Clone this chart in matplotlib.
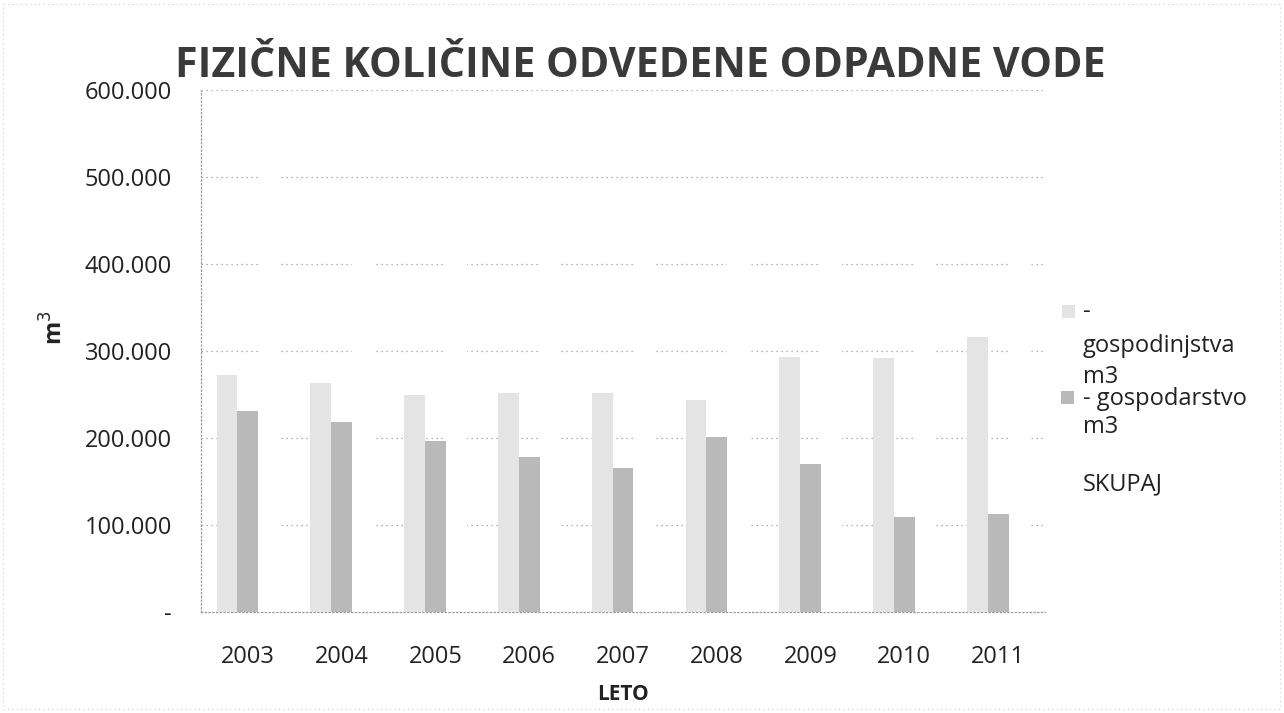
import matplotlib
matplotlib.use("Agg")
import matplotlib.pyplot as plt
from matplotlib.patches import Rectangle
import numpy as np

years = ["2003", "2004", "2005", "2006", "2007", "2008", "2009", "2010", "2011"]
gospodinjstva = [272000, 263000, 249000, 252000, 252000, 244000, 293000, 292000, 316000]
gospodarstvo = [231000, 218000, 197000, 178000, 166000, 201000, 170000, 109000, 113000]
skupaj = [a + b for a, b in zip(gospodinjstva, gospodarstvo)]
yticks = [0, 100000, 200000, 300000, 400000, 500000, 600000]
ytick_labels = ["-", "100.000", "200.000", "300.000", "400.000", "500.000", "600.000"]
series_labels = ["-\ngospodinjstva\nm3", "- gospodarstvo\nm3", "SKUPAJ"]
title = "FIZIČNE KOLIČINE ODVEDENE ODPADNE VODE"

W, H = 1284, 713
plt.rcParams['font.family'] = ['Open Sans', 'DejaVu Sans']
fig = plt.figure(figsize=(W / 100, H / 100), dpi=100)

def fx(px):
    return px / W

def fy(py):
    return 1 - py / H

ax = fig.add_axes([fx(201), fy(612), fx(1045) - fx(201), fy(90) - fy(612)])

c_light = "#e4e4e4"
c_dark = "#b9b9b9"
x = np.arange(len(years))
w = 1 / 4.5
b1 = ax.bar(x - w, gospodinjstva, w, color=c_light, zorder=3, label=series_labels[0])
b2 = ax.bar(x, gospodarstvo, w, color=c_dark, zorder=3, label=series_labels[1])
b3 = ax.bar(x + w, skupaj, w, color="white", zorder=3, label=series_labels[2])

ax.set_xlim(-0.5, len(years) - 0.5)
ax.set_ylim(0, 600000)
ax.set_yticks(yticks)
ax.set_yticklabels(ytick_labels, fontsize=17, color="#222222")
ax.set_xticks(x)
ax.set_xticklabels(years, fontsize=17, color="#222222")
ax.tick_params(axis='y', length=0, pad=21)
ax.tick_params(axis='x', length=0, pad=24)
ax.yaxis.grid(True, linestyle=(0, (1, 3)), color="#9a9a9a", linewidth=0.9, zorder=0)
for s in ["top", "right"]:
    ax.spines[s].set_visible(False)
for s in ["left", "bottom"]:
    ax.spines[s].set_linestyle((0, (1, 2)))
    ax.spines[s].set_color("#9a9a9a")
    ax.spines[s].set_linewidth(0.9)

fig.text(fx(623), fy(694), "LETO", ha="center", va="center", fontsize=15, fontweight="bold", color="#222222")
fig.text(fx(55), fy(328), "m$^3$", ha="center", va="center", rotation=90, fontsize=17, fontweight="bold", color="#222222")

# title fitted to width
t = fig.text(fx(640), fy(77), title, ha="center", va="baseline", fontsize=34, fontweight="bold", color="#3a3a3a")
fig.canvas.draw()
bb = t.get_window_extent()
t.set_fontsize(34 * 930 / bb.width)

# legend (manual layout as in the source)
fig.patches.append(Rectangle((fx(1062), fy(318)), fx(13), 13 / H, transform=fig.transFigure, facecolor=b1.patches[0].get_facecolor(), edgecolor="none"))
fig.patches.append(Rectangle((fx(1061), fy(404)), fx(13), 13 / H, transform=fig.transFigure, facecolor=b2.patches[0].get_facecolor(), edgecolor="none"))
lines = [("-", 318), ("gospodinjstva", 352), ("m3", 383), ("- gospodarstvo", 405), ("m3", 433), ("SKUPAJ", 490)]
for txt, base in lines:
    fig.text(fx(1083), fy(base), txt, ha="left", va="baseline", fontsize=17, color="#222222")

# faint chart border
fig.patches.append(Rectangle((fx(3), fy(709)), fx(1277), 705 / H, transform=fig.transFigure, facecolor="none", edgecolor="#cccccc", linestyle=(0, (1, 3)), linewidth=0.8))

fig.savefig("out.png", dpi=100)
